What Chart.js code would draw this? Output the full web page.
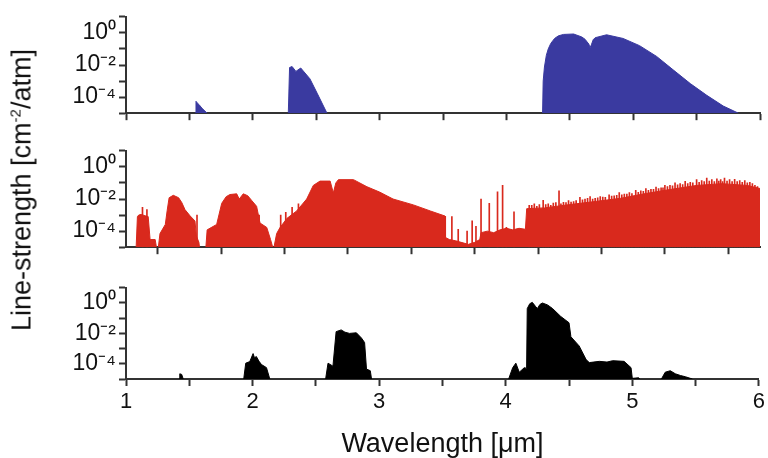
<!DOCTYPE html>
<html>
<head>
<meta charset="utf-8">
<script src="https://cdn.jsdelivr.net/npm/chart.js@4.4.0/dist/chart.umd.min.js"></script>
<style>
  body { margin: 0; width: 768px; height: 458px; position: relative; overflow: hidden; background: #fff; }
  canvas { position: absolute; left: 0; }
  #ytitle {
    position: absolute; left: 22px; top: 190px;
    transform: translate(-50%, -50%) rotate(-90deg);
    white-space: nowrap; font-family: "Liberation Sans", Arial, sans-serif;
    font-size: 27px; color: #111;
  }
  #ytitle sup { font-size: 15px; }
</style>
</head>
<body>
<canvas id="c1" width="768" height="130" style="top:0px"></canvas>
<canvas id="c2" width="768" height="130" style="top:134px"></canvas>
<canvas id="c3" width="768" height="187" style="top:271px"></canvas>
<div id="ytitle">Line-strength [cm<sup>-2</sup>/atm]</div>
<script>
// wavelength in um, line strength in cm-2/atm; null breaks a band
var blueWl = [1.545, 1.552, 1.56, 1.575, 1.6, 1.64, 1.64,
  2.28, 2.29, 2.31, 2.34, 2.378, 2.45, 2.51, 2.585, 2.585,
  4.285, 4.29, 4.30, 4.315, 4.33, 4.35, 4.38, 4.41, 4.45, 4.53, 4.594, 4.62, 4.65, 4.66, 4.67, 4.685, 4.70, 4.79, 4.92, 5.05, 5.185, 5.315, 5.45, 5.58, 5.71, 5.83];
var blueS = [1e-5, 5.5e-5, 4.5e-5, 3.5e-5, 2e-5, 1e-5, null,
  1e-5, 7e-3, 8e-3, 4e-3, 6.5e-3, 1.4e-3, 1.6e-4, 1e-5, null,
  1e-5, 1e-3, 7.5e-3, 0.04, 0.1, 0.22, 0.45, 0.65, 0.8, 0.85, 0.56, 0.4, 0.2, 0.12, 0.18, 0.38, 0.5, 0.76, 0.45, 0.16, 0.034, 5e-3, 7e-4, 1.3e-4, 2.8e-5, 1e-5];

var redWl = [1.08, 1.09, 1.10, 1.12, 1.15, 1.175, 1.19, 1.23, 1.24, 1.24,
  1.255, 1.268, 1.31, 1.325, 1.34, 1.373, 1.415, 1.44, 1.465, 1.505, 1.544, 1.555, 1.575, 1.58, 1.58,
  1.63, 1.64, 1.715, 1.755, 1.79, 1.82, 1.873, 1.893, 1.925, 1.96, 1.99, 2.03, 2.057, 2.11, 2.14, 2.157, 2.157,
  2.167, 2.188, 2.215, 2.27, 2.346, 2.425, 2.477, 2.53, 2.61, 2.635, 2.655, 2.675, 2.794, 2.9, 3.0, 3.106, 3.266, 3.4, 3.516,
  3.52, 3.55, 3.6, 3.7, 3.75, 3.79, 3.8, 3.85, 3.9, 3.95, 4.0, 4.05, 4.1, 4.15,
  4.16, 4.3, 4.5, 4.7, 4.9, 5.1, 5.3, 5.5, 5.7, 5.9, 6.0];
var redS = [1e-5, 8e-4, 1e-3, 1.1e-3, 9e-4, 8e-4, 3e-5, 3e-5, 1e-5, null,
  1e-5, 7e-5, 2.6e-4, 2e-3, 1.2e-2, 1.7e-2, 1.2e-2, 6e-3, 2.2e-3, 9e-4, 4.3e-4, 5e-5, 2e-5, 1e-5, null,
  1e-5, 1.2e-4, 2.6e-4, 5.4e-3, 1.4e-2, 1.9e-2, 2.1e-2, 1e-2, 2.1e-2, 1.6e-2, 8.3e-3, 3.5e-3, 3.2e-4, 1.7e-4, 3e-5, 1e-5, null,
  1e-5, 7e-5, 1.7e-4, 6.3e-4, 1.8e-3, 1e-2, 7e-2, 0.13, 0.13, 0.024, 0.1, 0.16, 0.16, 0.058, 0.027, 0.01, 4.3e-3, 1.8e-3, 8.7e-4,
  4e-5, 3e-5, 2.5e-5, 1.5e-5, 2e-5, 3e-5, 8e-5, 1e-4, 8e-5, 1.2e-4, 1.5e-4, 1.2e-4, 1.5e-4, 1.3e-4,
  2.5e-3, 2.8e-3, 4.5e-3, 7e-3, 1.1e-2, 2.2e-2, 4e-2, 7e-2, 9e-2, 7e-2, 4.5e-2];

// single lines sticking out of the red envelope
var redLineWl = [1.13, 1.165, 1.56, 2.22, 2.26, 2.31, 2.36, 2.05,
  3.57, 3.62, 3.69, 3.73, 3.76, 3.80, 3.865, 3.93, 3.97, 4.0, 4.06,
  4.18, 4.22, 4.26, 4.29, 4.33, 4.37, 4.415, 4.45, 4.49, 4.53, 4.58, 4.62, 4.66, 4.70, 4.74, 4.78, 4.81, 4.85, 4.89, 4.93, 4.97,
  5.02, 5.06, 5.10, 5.14, 5.18, 5.22, 5.25, 5.29, 5.33, 5.37, 5.41, 5.45, 5.50, 5.54, 5.58, 5.62, 5.66, 5.69, 5.72, 5.76, 5.80, 5.84, 5.88, 5.92, 5.96,
  4.20, 4.24, 4.31, 4.35, 4.39, 4.43, 4.47, 4.51, 4.55, 4.60, 4.64, 4.68, 4.72, 4.76, 4.83, 4.87, 4.91, 4.95, 4.99,
  5.04, 5.08, 5.12, 5.16, 5.20, 5.235, 5.27, 5.31, 5.35, 5.39, 5.43, 5.47, 5.52, 5.56, 5.60, 5.64, 5.675, 5.705, 5.74, 5.78, 5.82, 5.86, 5.90, 5.94, 5.98];
var redLineS = [3e-3, 2.2e-3, 1e-3, 1e-3, 1.5e-3, 3e-3, 5e-3, 1e-3,
  8e-4, 1.3e-4, 1e-4, 4.4e-4, 2e-4, 1e-2, 5.4e-3, 2.8e-2, 7e-2, 1.7e-4, 1.6e-3,
  4e-3, 5e-3, 4.5e-3, 8.3e-3, 5e-3, 5.6e-3, 3.2e-2, 6.3e-3, 8e-3, 7e-3, 1.25e-2, 1e-2, 1.4e-2, 1.1e-2, 1.4e-2, 1.25e-2, 1.8e-2, 1.6e-2, 2.5e-2, 2e-2, 2.5e-2,
  3.5e-2, 3.2e-2, 4.5e-2, 4e-2, 5.6e-2, 5e-2, 7e-2, 7e-2, 0.1, 9e-2, 0.125, 0.11, 0.16, 0.14, 0.2, 0.16, 0.18, 0.16, 0.2, 0.16, 0.165, 0.14, 0.14, 0.11, 0.07,
  4e-3, 3.5e-3, 4.5e-3, 4e-3, 6e-3, 5e-3, 6e-3, 6.5e-3, 8e-3, 9e-3, 1.1e-2, 1e-2, 1.2e-2, 1.3e-2, 1.5e-2, 1.7e-2, 1.8e-2, 2e-2, 2.2e-2,
  2.6e-2, 3e-2, 3.5e-2, 4e-2, 4.5e-2, 5e-2, 6e-2, 6.5e-2, 7.5e-2, 8e-2, 9e-2, 0.1, 0.11, 0.12, 0.13, 0.12, 0.13, 0.12, 0.13, 0.12, 0.12, 0.11, 0.1, 0.09, 0.06];

var blackWl = [1.42, 1.425, 1.44, 1.452, 1.452,
  1.93, 1.946, 1.978, 2.004, 2.015, 2.03, 2.05, 2.07, 2.11, 2.136, 2.136,
  2.577, 2.596, 2.635, 2.66, 2.70, 2.73, 2.766, 2.82, 2.86, 2.885, 2.9, 2.93, 2.94, 2.94,
  4.023, 4.055, 4.08, 4.107, 4.147, 4.165, 4.17, 4.19, 4.21, 4.235, 4.25, 4.27, 4.29, 4.33, 4.37, 4.435, 4.50, 4.515, 4.58, 4.635, 4.66, 4.74, 4.8, 4.845, 4.935, 4.99, 5.0, 5.05, 5.06, 5.06,
  5.23, 5.26, 5.30, 5.34, 5.38, 5.42, 5.475];
var blackS = [1e-5, 2.2e-5, 2e-5, 1e-5, null,
  1e-5, 1.1e-4, 1.4e-4, 4.7e-4, 2.5e-4, 3e-4, 1.5e-4, 9e-5, 5.6e-5, 1e-5, null,
  1e-5, 1.1e-4, 7e-5, 1.3e-2, 1.7e-2, 1.2e-2, 1e-2, 1.1e-2, 5e-3, 2.5e-3, 4.5e-5, 3.5e-5, 1e-5, null,
  1e-5, 5.6e-5, 1.1e-4, 2.8e-5, 5.6e-5, 5e-5, 0.43, 0.9, 1.1, 0.6, 0.43, 0.8, 1.0, 0.75, 0.43, 0.13, 0.05, 6e-3, 1.5e-3, 1.9e-4, 1.2e-4, 1.45e-4, 1.3e-4, 1.6e-4, 1.45e-4, 5.6e-5, 1.1e-5, 1.2e-5, 1e-5, null,
  1e-5, 2.8e-5, 3.5e-5, 2.2e-5, 1.7e-5, 1.4e-5, 1e-5];

var decades = [1e-5, 1e-4, 1e-3, 1e-2, 1e-1, 1, 10];
var yLabelExp = [0, -2, -4];
var yLabelText = ['10⁰', '10⁻²', '10⁻⁴'];

var FONT = '"Liberation Sans", Arial, sans-serif';
var AXIS = '#333';

function toPoints(wl, s) {
  return wl.map(function (x, i) { return { x: x, y: s[i] }; });
}

function panel(id, wl, s, color, padTop, xH, bottomAxis, lines) {
  var datasets = [{
    type: 'line',
    data: toPoints(wl, s),
    borderColor: color,
    backgroundColor: color,
    borderWidth: 1,
    pointRadius: 0,
    tension: 0,
    fill: 'start'
  }];
  if (lines) {
    datasets.push({
      type: 'bar',
      data: toPoints(lines[0], lines[1]),
      backgroundColor: color,
      barThickness: 1
    });
  }
  return new Chart(document.getElementById(id), {
    type: 'line',
    data: { datasets: datasets },
    options: {
      responsive: false,
      animation: false,
      events: [],
      layout: { padding: { top: padTop, right: 8, left: 0, bottom: 0 } },
      plugins: { legend: { display: false }, tooltip: { enabled: false } },
      scales: {
        x: {
          type: 'linear', min: 1, max: 6, offset: false,
          ticks: {
            stepSize: 0.5, autoSkip: false, maxRotation: 0, padding: 3,
            color: '#111', font: { family: FONT, size: 22 },
            callback: function (v) { return bottomAxis && Number.isInteger(v) ? String(v) : ''; }
          },
          grid: { drawOnChartArea: false, tickLength: 7, tickColor: AXIS, tickWidth: 2 },
          border: { color: AXIS, width: 2 },
          title: {
            display: bottomAxis, text: 'Wavelength [μm]', color: '#111',
            font: { family: FONT, size: 27, lineHeight: 1 }, padding: { top: 0, bottom: 0 }
          },
          afterFit: function (sc) { sc.height = xH; }
        },
        y: {
          type: 'logarithmic', min: 1e-5, max: 10,
          afterBuildTicks: function (sc) { sc.ticks = decades.map(function (v) { return { value: v }; }); },
          ticks: {
            autoSkip: false, padding: 3, color: '#111', font: { family: FONT, size: 23 },
            callback: function (v) {
              var k = yLabelExp.indexOf(Math.round(Math.log10(v)));
              return k < 0 ? '' : yLabelText[k];
            }
          },
          grid: { drawOnChartArea: false, tickLength: 7, tickColor: AXIS, tickWidth: 2 },
          border: { color: AXIS, width: 2 },
          afterFit: function (sc) { sc.width = 126; }
        }
      }
    }
  });
}

panel('c1', blueWl, blueS, '#3a3aa0', 11, 12, false, null);
panel('c2', redWl, redS, '#d9291d', 11, 12, false, [redLineWl, redLineS]);
panel('c3', blackWl, blackS, '#000000', 10, 79, true, null);
</script>
</body>
</html>
